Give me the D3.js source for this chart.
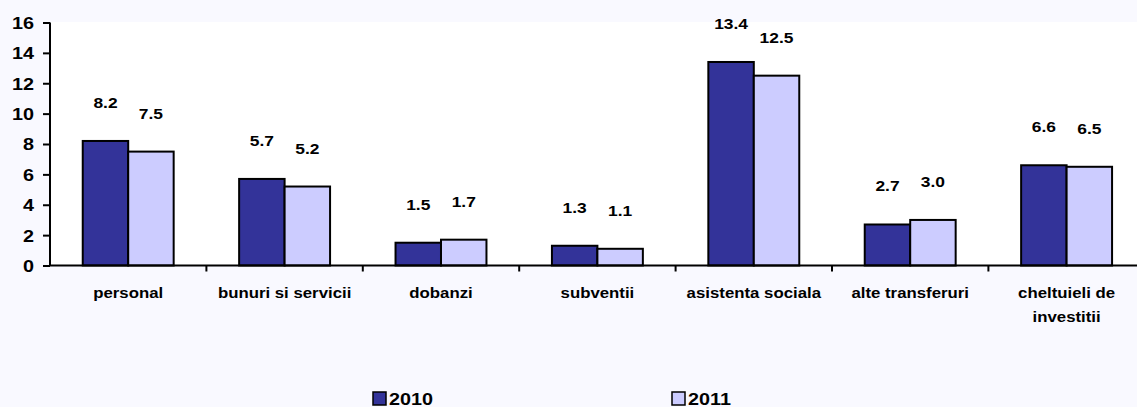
<!DOCTYPE html>
<html>
<head>
<meta charset="utf-8">
<script src="https://cdn.jsdelivr.net/npm/d3@7"></script>
<style>
  html, body { margin: 0; padding: 0; background: #F9F9FF; }
  svg { display: block; }
  text { font-family: "Liberation Sans", Arial, sans-serif; font-weight: bold; fill: #000; }
</style>
</head>
<body>
<svg id="chart" width="1137" height="407"></svg>
<script>
// Budget expenditure by category, % — two years side by side
const categories = ["personal", "bunuri si servicii", "dobanzi", "subventii",
                    "asistenta sociala", "alte transferuri", "cheltuieli de investitii"];
const seriesNames = ["2010", "2011"];
const values2010 = [8.2, 5.7, 1.5, 1.3, 13.4, 2.7, 6.6];
const values2011 = [7.5, 5.2, 1.7, 1.1, 12.5, 3.0, 6.5];
const yTicks = [0, 2, 4, 6, 8, 10, 12, 14, 16];

const seriesValues = [values2010, values2011];
const colors = ["#333399", "#CCCCFF"];
const stretch = 1.2; // wide lettering

const svg = d3.select("#chart");
const plotLeft = 50, plotTop = 22.5, plotBottom = 265.5, slotW = 156.4;
const plotRight = plotLeft + categories.length * slotW;

// white plot area
svg.append("rect").attr("x", plotLeft).attr("y", plotTop - 0.5)
  .attr("width", plotRight - plotLeft).attr("height", plotBottom - plotTop + 0.5).attr("fill", "#fff");

const x0 = d3.scaleBand().domain(categories).range([plotLeft, plotRight]).padding(0);
const x1 = d3.scaleBand().domain(seriesNames).range([0, x0.bandwidth()])
  .paddingInner(0).paddingOuter(0.72);
const y = d3.scaleLinear().domain([0, 16]).range([plotBottom, plotTop]);

// bars
const groups = svg.append("g").selectAll("g").data(categories).join("g")
  .attr("transform", d => `translate(${x0(d)},0)`);

groups.each(function(cat, ci) {
  const g = d3.select(this);
  seriesNames.forEach((s, si) => {
    const v = seriesValues[si][ci];
    g.append("rect")
      .attr("x", x1(s)).attr("y", y(v))
      .attr("width", x1.bandwidth()).attr("height", y(0) - y(v))
      .attr("fill", colors[si]).attr("stroke", "#000").attr("stroke-width", 2);
    g.append("text")
      .attr("transform", `translate(${x1(s) + x1.bandwidth() / 2},${y(v) - 33}) scale(${stretch},1)`)
      .attr("text-anchor", "middle").attr("font-size", 14.5)
      .text(d3.format(".1f")(v));
  });
});

// y axis
const yAxis = svg.append("g").attr("transform", `translate(${plotLeft},0)`)
  .call(d3.axisLeft(y).tickValues(yTicks).tickSize(7).tickPadding(0).tickFormat(d3.format("d")));
yAxis.select(".domain").attr("stroke", "#000").attr("stroke-width", 2)
  .attr("d", `M0,${plotTop}V${plotBottom}`);
yAxis.selectAll(".tick line").attr("stroke", "#000").attr("stroke-width", 2);
yAxis.selectAll(".tick text")
  .attr("x", -16 / stretch).attr("dy", "0.36em")
  .attr("transform", `scale(${stretch},1)`)
  .attr("font-size", 16.5).attr("font-family", null);

// x axis with ticks on category boundaries
const xg = svg.append("g");
xg.append("line").attr("x1", plotLeft).attr("x2", plotRight)
  .attr("y1", plotBottom).attr("y2", plotBottom).attr("stroke", "#000").attr("stroke-width", 2);
xg.selectAll("line.tk").data(categories.slice(1)).join("line").attr("class", "tk")
  .attr("x1", d => x0(d)).attr("x2", d => x0(d))
  .attr("y1", plotBottom).attr("y2", plotBottom + 6).attr("stroke", "#000").attr("stroke-width", 2);

// category labels, wrapped when too wide
const maxW = 150;
categories.forEach(cat => {
  const t = svg.append("text")
    .attr("transform", `translate(${x0(cat) + x0.bandwidth() / 2},298) scale(${stretch},1)`)
    .attr("text-anchor", "middle").attr("font-size", 14);
  const words = cat.split(" ");
  let line = [];
  let ts = t.append("tspan").attr("x", 0).attr("dy", 0);
  words.forEach(w => {
    line.push(w);
    ts.text(line.join(" "));
    if (ts.node().getComputedTextLength() * stretch > maxW && line.length > 1) {
      line.pop();
      ts.text(line.join(" "));
      line = [w];
      ts = t.append("tspan").attr("x", 0).attr("dy", 24).text(w);
    }
  });
});

// legend
const legendX = [373, 672];
seriesNames.forEach((s, i) => {
  svg.append("rect").attr("x", legendX[i]).attr("y", 392)
    .attr("width", 13).attr("height", 13)
    .attr("fill", colors[i]).attr("stroke", "#000").attr("stroke-width", 1.5);
  svg.append("text")
    .attr("transform", `translate(${legendX[i] + 16},404.5) scale(${stretch},1)`)
    .attr("font-size", 16.5).text(s);
});
</script>
</body>
</html>
